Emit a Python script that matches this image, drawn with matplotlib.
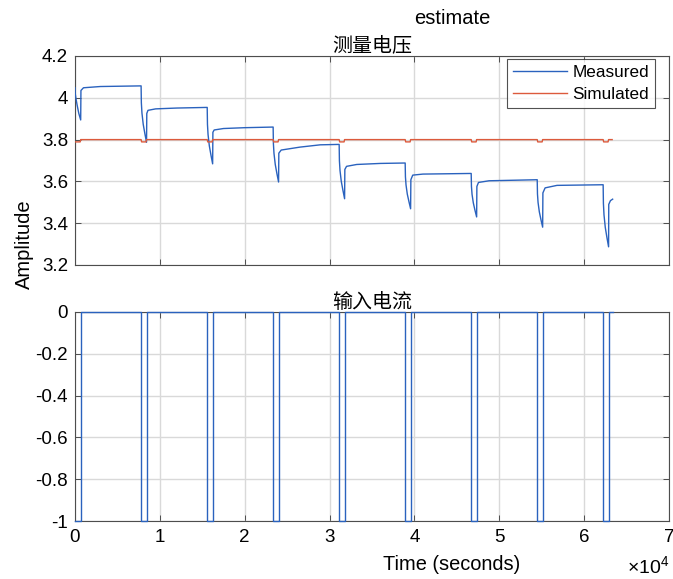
import numpy as np
import matplotlib
matplotlib.use("Agg")
import matplotlib.pyplot as plt
from matplotlib.ticker import FuncFormatter

plt.rcParams['font.family'] = ['Liberation Sans', 'Noto Sans CJK SC', 'DejaVu Sans']
plt.rcParams['axes.unicode_minus'] = False
plt.rcParams['mathtext.fontset'] = 'custom'
plt.rcParams['mathtext.rm'] = 'Liberation Sans'

# Discharge pulses (seconds): current is -1 between start and end, 0 otherwise
pulse_start = [0, 7790, 15580, 23350, 31130, 38910, 46690, 54470, 62240]
pulse_end = [670, 8430, 16220, 23990, 31770, 39550, 47330, 55110, 62880]
t_stop = 63360

# Measured terminal voltage (seconds, volts)
meas_t = [
    0, 30, 100, 250, 450, 670,
    700, 1000, 3000,
    7790, 7820, 7890, 8040, 8240, 8430,
    8460, 8600, 9500, 12000,
    15580, 15610, 15680, 15830, 16030, 16220,
    16250, 16400, 17500, 20000,
    23350, 23380, 23450, 23600, 23800, 23990,
    24020, 24300, 26500, 28900,
    31130, 31160, 31230, 31380, 31580, 31770,
    31800, 32000, 33200, 36000,
    38910, 38940, 39010, 39160, 39360, 39550,
    39580, 39800, 41000,
    46690, 46720, 46790, 46940, 47140, 47330,
    47360, 47550, 48800,
    54470, 54500, 54570, 54720, 54920, 55110,
    55140, 55400, 56800,
    62240, 62270, 62340, 62490, 62690, 62880,
    62900, 63100, 63360,
]
meas_v = [
    4.048, 4.020, 4.000, 3.965, 3.925, 3.894,
    4.035, 4.048, 4.054,
    4.057, 3.976, 3.927, 3.873, 3.827, 3.787,
    3.925, 3.940, 3.947, 3.951,
    3.954, 3.873, 3.824, 3.770, 3.724, 3.684,
    3.835, 3.846, 3.853, 3.857,
    3.860, 3.781, 3.734, 3.681, 3.636, 3.597,
    3.735, 3.750, 3.764, 3.775,
    3.777, 3.699, 3.652, 3.600, 3.556, 3.517,
    3.657, 3.672, 3.681, 3.686,
    3.688, 3.622, 3.583, 3.539, 3.502, 3.469,
    3.608, 3.630, 3.635,
    3.638, 3.576, 3.538, 3.497, 3.461, 3.430,
    3.576, 3.595, 3.603,
    3.608, 3.540, 3.499, 3.454, 3.415, 3.381,
    3.545, 3.569, 3.581,
    3.584, 3.495, 3.440, 3.380, 3.330, 3.287,
    3.490, 3.508, 3.515,
]

# Simulated voltage levels
sim_rest = 3.800
sim_pulse = 3.789

# build current and simulated series from the pulse table
cur_t, cur_i, sim_t, sim_v = [], [], [], []
for k, (s, e) in enumerate(zip(pulse_start, pulse_end)):
    cur_t += [s, e, e]
    cur_i += [-1, -1, 0]
    if k + 1 < len(pulse_start):
        cur_t += [pulse_start[k + 1]]
        cur_i += [0]
    sim_t += [s, s + 60, e - 60, e]
    sim_v += [sim_rest if s > 0 else sim_pulse, sim_pulse, sim_pulse, sim_rest]
cur_t += [t_stop]
cur_i += [0]
sim_t += [t_stop - 60]
sim_v += [sim_rest]

blue = '#2a62be'
red = '#dc5a3c'
axcol = '#4d4d4d'

fig = plt.figure(figsize=(6.73, 5.79), dpi=100)
ax1 = fig.add_axes([75/673, 1 - 265/579, 594/673, 209/579])
ax2 = fig.add_axes([75/673, 1 - 521/579, 594/673, 209/579])

ax1.plot(meas_t, meas_v, color=blue, lw=1.0, label='Measured', zorder=3)
ax1.plot(sim_t, sim_v, color=red, lw=1.0, label='Simulated', zorder=3)
ax2.plot(cur_t, cur_i, color=blue, lw=1.0, clip_on=False, zorder=3)

for ax in (ax1, ax2):
    ax.set_xlim(0, 70000)
    ax.set_xticks(np.arange(0, 70001, 10000))
    ax.grid(True, color='#d9d9d9', lw=1.0)
    ax.set_axisbelow(True)
    ax.tick_params(direction='in', length=4, width=0.7, color=axcol,
                   top=True, right=True, labelsize=13.5, labelcolor='black')
    for sp in ax.spines.values():
        sp.set_color(axcol)
        sp.set_linewidth(0.8)

ax1.set_ylim(3.2, 4.2)
ax1.set_yticks([3.2, 3.4, 3.6, 3.8, 4.0, 4.2])
ax1.set_yticklabels(['3.2', '3.4', '3.6', '3.8', '4', '4.2'])
ax1.tick_params(labelbottom=False, pad=5)

ax2.set_ylim(-1, 0)
ax2.set_yticks([-1, -0.8, -0.6, -0.4, -0.2, 0])
ax2.set_yticklabels(['-1', '-0.8', '-0.6', '-0.4', '-0.2', '0'])
ax2.xaxis.set_major_formatter(FuncFormatter(lambda v, p: f'{v/1e4:g}'))
ax2.tick_params(axis='x', pad=6)
ax2.tick_params(axis='y', pad=5)

ax1.set_title('测量电压', family=['Noto Sans CJK SC'], fontsize=14.4, pad=3)
ax2.set_title('输入电流', family=['Noto Sans CJK SC'], fontsize=14.4, pad=3)

leg = ax1.legend(loc='upper right', bbox_to_anchor=(0.9765, 0.985), fontsize=12.3,
                 frameon=True, fancybox=False, handlelength=3.2, handletextpad=0.3,
                 borderpad=0.34, labelspacing=0.42, borderaxespad=0)
leg.get_frame().set_edgecolor('#262626')
leg.get_frame().set_linewidth(0.8)

fig.text(452/673, 1 - 19/579, 'estimate', ha='center', va='center', fontsize=14.5)
fig.text(24/673, 1 - 244/579, 'Amplitude', ha='center', va='center',
         rotation=90, fontsize=14.5)
fig.text(452/673, 1 - 565/579, 'Time (seconds)', ha='center', va='center', fontsize=14.4)
fig.text(669/673, 1 - 578/579, r'$\times10^4$', ha='right', va='bottom', fontsize=14)

fig.savefig('out.png', dpi=100, facecolor='white')
